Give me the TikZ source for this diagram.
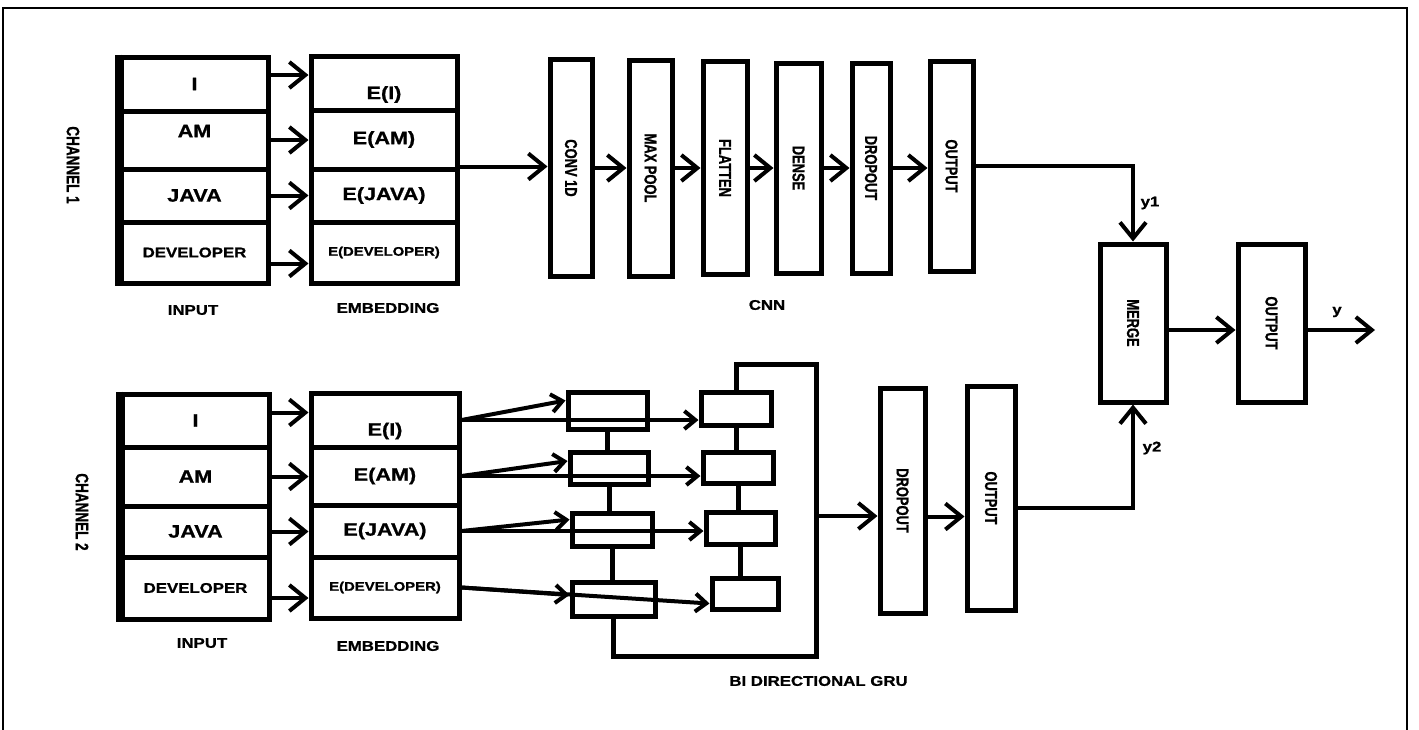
\documentclass[tikz,border=0pt]{standalone}
\usepackage{fontspec}
\setmainfont{Liberation Sans}
\newfontfamily\widesans{Liberation Sans}[FakeStretch=1.2, FakeBold=1]
\newfontfamily\narrowsans{Liberation Sans}[FakeStretch=0.75, FakeBold=1]
\usetikzlibrary{arrows.meta}
\newcommand{\sidetext}[1]{\rotatebox{-90}{#1}}
\tikzset{
  nnfig/.style={x=0.5pt, y=-0.5pt, >={Straight Barb[length=8pt,width=13pt]}},
  cell/.style={draw, line width=2.5pt, inner sep=0pt,
    font=\widesans\bfseries\fontsize{9}{10}\selectfont},
  cellsmall/.style={cell, font=\widesans\bfseries\fontsize{7}{8}\selectfont},
  celltiny/.style={cell, font=\widesans\bfseries\fontsize{6.2}{7}\selectfont},
  layer/.style={draw, line width=2.5pt, inner sep=0pt,
    font=\narrowsans\bfseries\fontsize{8.6}{9}\selectfont},
  grucell/.style={draw, line width=2.5pt, inner sep=0pt},
  flow/.style={line width=2pt, ->},
  gruflow/.style={line width=2pt, -{Straight Barb[length=5.5pt,width=9pt]}},
  wire/.style={line width=2.5pt},
  caption/.style={font=\widesans\bfseries\fontsize{7}{8}\selectfont, inner sep=1pt},
  chancaption/.style={font=\narrowsans\bfseries\fontsize{9}{10}\selectfont, inner sep=1pt},
}
\begin{document}
\begin{tikzpicture}[nnfig]
  \useasboundingbox (0,0) rectangle (1419,729);
  \draw[line width=1pt] (3,8) rectangle (1407,760);
  % channel 1: words and their embeddings
  \node[cell, minimum width=73.5pt, minimum height=27pt] (in1a) at (194.5,84) {I};
  \node[cell, minimum width=73.5pt, minimum height=29pt, text depth=9pt] (in1b) at (194.5,140) {AM};
  \node[cell, minimum width=73.5pt, minimum height=26.5pt] (in1c) at (194.5,195.5) {JAVA};
  \node[cellsmall, minimum width=73.5pt, minimum height=30.5pt] (in1d) at (194.5,252.5) {DEVELOPER};
  \draw[line width=3.5pt] (in1a.north west) -- (in1d.south west);
  \node[cell, minimum width=73pt, minimum height=27pt, text height=18pt] (em1a) at (384,83) {E(I)};
  \node[cell, minimum width=73pt, minimum height=29.5pt] (em1b) at (384,139.5) {E(AM)};
  \node[cell, minimum width=73pt, minimum height=26.5pt] (em1c) at (384,195.5) {E(JAVA)};
  \node[celltiny, minimum width=73pt, minimum height=30.5pt] (em1d) at (384,252.5) {E(DEVELOPER)};
  \draw[flow] ([yshift=4.5pt]in1a.east) -- ([yshift=4.5pt]in1a.east -| em1a.west);
  \draw[flow] (in1b.east) -- (in1b.east -| em1b.west);
  \draw[flow] (in1c.east) -- (in1c.east -| em1c.west);
  \draw[flow] ([yshift=-5.5pt]in1d.east) -- ([yshift=-5.5pt]in1d.east -| em1d.west);
  \node[chancaption, rotate=-90] (ch1) at (73,165) {CHANNEL 1};
  \node[caption] (in1lbl) at (193,310) {INPUT};
  \node[caption] (em1lbl) at (388,308) {EMBEDDING};
  % CNN branch
  \node[layer, minimum width=21pt, minimum height=108.5pt] (conv) at (571,168) {\sidetext{CONV 1D}};
  \node[layer, minimum width=21.5pt, minimum height=108pt] (pool) at (650.5,168) {\sidetext{MAX POOL}};
  \node[layer, minimum width=22pt, minimum height=106.5pt] (flat) at (725,168) {\sidetext{FLATTEN}};
  \node[layer, minimum width=22.5pt, minimum height=105pt] (dense) at (798.5,168) {\sidetext{DENSE}};
  \node[layer, minimum width=19pt, minimum height=105pt] (drop1) at (871,168) {\sidetext{DROPOUT}};
  \node[layer, minimum width=21.5pt, minimum height=105pt] (out1) at (951.5,166) {\sidetext{OUTPUT}};
  \draw[flow] (em1c.north east) -- (em1c.north east -| conv.west);
  \draw[flow] (conv.east) -- (conv.east -| pool.west);
  \draw[flow] (pool.east) -- (pool.east -| flat.west);
  \draw[flow] (flat.east) -- (flat.east -| dense.west);
  \draw[flow] (dense.east) -- (dense.east -| drop1.west);
  \draw[flow] (drop1.east) -- (drop1.east -| out1.west);
  \node[caption] (cnnlbl) at (767,305) {CNN};
  % channel 2: words and their embeddings
  \node[cell, minimum width=73.5pt, minimum height=26.5pt] (in2a) at (195.5,420.5) {I};
  \node[cell, minimum width=73.5pt, minimum height=29.5pt] (in2b) at (195.5,476.5) {AM};
  \node[cell, minimum width=73.5pt, minimum height=25.5pt] (in2c) at (195.5,531.5) {JAVA};
  \node[cellsmall, minimum width=73.5pt, minimum height=31pt] (in2d) at (195.5,588) {DEVELOPER};
  \draw[line width=3.5pt] (in2a.north west) -- (in2d.south west);
  \node[cell, minimum width=74pt, minimum height=27pt, text height=17.5pt] (em2a) at (385,420) {E(I)};
  \node[cell, minimum width=74pt, minimum height=29pt] (em2b) at (385,476) {E(AM)};
  \node[cell, minimum width=74pt, minimum height=26pt] (em2c) at (385,531) {E(JAVA)};
  \node[celltiny, minimum width=74pt, minimum height=30.5pt] (em2d) at (385,587.5) {E(DEVELOPER)};
  \draw[flow] ([yshift=4pt]in2a.east) -- ([yshift=4pt]in2a.east -| em2a.west);
  \draw[flow] (in2b.east) -- (in2b.east -| em2b.west);
  \draw[flow] (in2c.east) -- (in2c.east -| em2c.west);
  \draw[flow] ([yshift=-5pt]in2d.east) -- ([yshift=-5pt]in2d.east -| em2d.west);
  \node[chancaption, rotate=-90] (ch2) at (82,512) {CHANNEL 2};
  \node[caption] (in2lbl) at (202,643) {INPUT};
  \node[caption] (em2lbl) at (388,646) {EMBEDDING};
  % bi-directional GRU cells
  \node[grucell, minimum width=39.5pt, minimum height=18.5pt] (f1) at (607.5,410.5) {};
  \node[grucell, minimum width=39pt, minimum height=16pt] (f2) at (609,468) {};
  \node[grucell, minimum width=40pt, minimum height=16.5pt] (f3) at (612,529.5) {};
  \node[grucell, minimum width=41.5pt, minimum height=17pt] (f4) at (613.5,599) {};
  \node[grucell, minimum width=35pt, minimum height=16.5pt] (b1) at (736,408.5) {};
  \node[grucell, minimum width=35pt, minimum height=15.5pt] (b2) at (738,467.5) {};
  \node[grucell, minimum width=34.5pt, minimum height=16pt] (b3) at (740.5,528) {};
  \node[grucell, minimum width=33pt, minimum height=15.5pt] (b4) at (745,593.5) {};
  \draw[wire] (f1.south) -- (f1.south |- f2.north);
  \draw[wire] (f2.south) -- (f2.south |- f3.north);
  \draw[wire] (f3.south) -- (f3.south |- f4.north);
  \draw[wire] (b1.south) -- (b1.south |- b2.north);
  \draw[wire] (b2.south) -- (b2.south |- b3.north);
  \draw[wire] (b3.south) -- (b3.south |- b4.north);
  \coordinate (gbr) at (816,656);
  \coordinate (gtr) at (816,364);
  \coordinate (gruout) at (816,516);
  \draw[wire] (f4.south) |- (gbr) -- (gtr) -| (b1.north);
  \draw[gruflow] (em2a.east) -- ([yshift=5pt]f1.west);
  \draw[gruflow] (em2a.east) -- (em2a.east -| b1.west);
  \draw[gruflow] (em2b.east) -- ([yshift=3.5pt]f2.west);
  \draw[gruflow] (em2b.east) -- (em2b.east -| b2.west);
  \draw[gruflow] (em2c.east) -- ([yshift=5pt]f3.west);
  \draw[gruflow] (em2c.east) -- (em2c.east -| b3.west);
  \draw[gruflow] (em2d.east) -- ([yshift=2pt]f4.west);
  \draw[gruflow] (em2d.east) -- ([yshift=-5pt]b4.west);
  \node[caption, anchor=west] (grulbl) at (727,681) {BI DIRECTIONAL GRU};
  \node[layer, minimum width=22.5pt, minimum height=112.5pt] (drop2) at (902.5,500.5) {\sidetext{DROPOUT}};
  \node[layer, minimum width=24pt, minimum height=112pt] (out2) at (991,498) {\sidetext{OUTPUT}};
  \draw[flow] (gruout) -- (gruout -| drop2.west);
  \draw[flow] ([yshift=-8pt]drop2.east) -- ([yshift=-8pt]drop2.east -| out2.west);
  % merge of both channels
  \node[layer, minimum width=33pt, minimum height=79pt] (merge) at (1133,323) {\sidetext{MERGE}};
  \node[layer, minimum width=33.5pt, minimum height=79pt] (outf) at (1271.5,323) {\sidetext{OUTPUT}};
  \coordinate (yout) at (1375,330);
  \draw[flow] (out1.east) -| (merge.north);
  \draw[flow] ([yshift=-5pt]out2.east) -| (merge.south);
  \draw[flow] ([yshift=-3.5pt]merge.east) -- ([yshift=-3.5pt]outf.west);
  \draw[flow] ([yshift=-3.5pt]outf.east) -- (yout);
  \node[caption] (y1lbl) at (1150,203) {y1};
  \node[caption] (y2lbl) at (1152,448) {y2};
  \node[caption] (ylbl) at (1337,312) {y};
\end{tikzpicture}
\end{document}
